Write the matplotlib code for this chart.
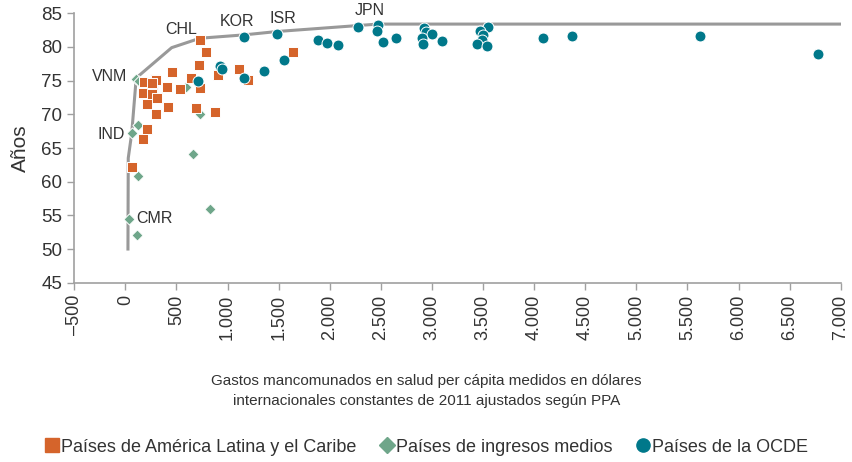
import matplotlib
matplotlib.use("Agg")
import matplotlib.pyplot as plt
from matplotlib.lines import Line2D
from matplotlib.ticker import FuncFormatter, MultipleLocator

plt.rcParams["font.family"] = ["Liberation Sans", "DejaVu Sans"]

# Países de América Latina y el Caribe (gasto, esperanza de vida)
lac_x = [730, 786, 718, 454, 639, 183, 290, 300, 404, 535, 730, 170, 273, 258,
         313, 208, 420, 300, 688, 877, 909, 1111, 1197, 1643, 208, 176, 62, 263]
lac_y = [81.0, 79.2, 77.3, 76.3, 75.4, 74.8, 75.3, 75.1, 74.1, 73.7, 73.9, 73.1,
         73.4, 73.0, 72.4, 71.5, 71.1, 70.0, 70.9, 70.4, 75.8, 76.8, 75.1, 79.2,
         67.8, 66.3, 62.2, 74.6]

# Países de ingresos medios
mid_x = [106, 120, 62, 126, 38, 111, 659, 828, 730, 591, 136]
mid_y = [75.3, 68.4, 67.2, 60.8, 54.5, 52.1, 64.1, 56.0, 70.0, 74.0, 74.9]

# Países de la OCDE
oecd_x = [1164, 1487, 1888, 926, 949, 714, 1164, 1357, 1555, 1970, 2078, 2279,
          2469, 2459, 2524, 2649, 2922, 2939, 2998, 2900, 2910, 3096, 3552,
          3470, 3503, 3487, 3438, 3542, 4090, 4373, 5623, 6782]
oecd_y = [81.5, 81.9, 81.1, 77.2, 76.7, 74.9, 75.4, 76.4, 78.1, 80.6, 80.3, 82.9,
          83.3, 82.4, 80.8, 81.3, 82.8, 82.2, 81.9, 81.3, 80.4, 80.9, 83.0,
          82.3, 81.8, 81.1, 80.5, 80.1, 81.3, 81.6, 81.6, 78.9]

# Frontera de eficiencia
front_x = [25, 28, 62, 106, 453, 730, 1164, 1487, 2469, 7000]
front_y = [50, 63.5, 67.2, 75.4, 79.9, 81.3, 81.8, 82.3, 83.4, 83.4]

# Etiquetas de países (nombre, x, y, desplazamiento en px, alineación)
labels = [
    ("VNM", 106, 75.3, (-9, 2), "right"),
    ("IND", 62, 67.2, (-7, -1), "right"),
    ("CMR", 38, 54.5, (7, 0), "left"),
    ("CHL", 730, 81.0, (-19, 11), "center"),
    ("KOR", 1164, 81.5, (-7, 15), "center"),
    ("ISR", 1487, 81.9, (6, 16), "center"),
    ("JPN", 2469, 83.3, (-8, 14), "center"),
]

orange = "#D5642B"
green = "#6FA68A"
teal = "#00788A"
gray = "#A0A0A0"
txt = "#333333"

fig = plt.figure(figsize=(8.53, 4.62), dpi=100)
ax = fig.add_axes([0.0871, 0.3881, 0.8985, 0.5831])

ax.plot(front_x, front_y, color="#999999", lw=2.2, zorder=1)
ax.scatter(lac_x, lac_y, marker="s", s=55, color=orange, edgecolor="white",
           linewidth=0.7, zorder=3)
ax.scatter(mid_x, mid_y, marker="D", s=32, color=green, edgecolor="white",
           linewidth=0.7, zorder=2)
ax.scatter(oecd_x, oecd_y, marker="o", s=62, color=teal, edgecolor="white",
           linewidth=0.7, zorder=4)

for name, lx, ly, off, ha in labels:
    ax.annotate(name, (lx, ly), xytext=off, textcoords="offset pixels",
                ha=ha, va="center", fontsize=11.5, color=txt)

ax.set_xlim(-500, 7000)
ax.set_ylim(45, 85)
ax.xaxis.set_major_locator(MultipleLocator(500))
ax.yaxis.set_major_locator(MultipleLocator(5))


def fmt_x(v, pos):
    s = f"{abs(int(round(v))):,}".replace(",", ".")
    return ("\u2013" + s) if v < 0 else s


ax.xaxis.set_major_formatter(FuncFormatter(fmt_x))
ax.tick_params(axis="x", labelsize=13, colors=txt, color=gray,
               length=5, width=1, labelrotation=90)
ax.tick_params(axis="y", labelsize=13.5, colors=txt, color=gray,
               length=5, width=1)
for side in ["top", "right"]:
    ax.spines[side].set_visible(False)
for side in ["left", "bottom"]:
    ax.spines[side].set_color(gray)
    ax.spines[side].set_linewidth(1.2)

ax.set_ylabel("Años", fontsize=15, color=txt, labelpad=8)

fig.text(0.5, 0.153, "Gastos mancomunados en salud per cápita medidos en dólares\n"
         "internacionales constantes de 2011 ajustados según PPA",
         ha="center", va="center", fontsize=11, color=txt, linespacing=1.55)

handles = [
    Line2D([], [], ls="none", marker="s", ms=9.5, color=orange,
           label="Países de América Latina y el Caribe"),
    Line2D([], [], ls="none", marker="D", ms=8, color=green,
           label="Países de ingresos medios"),
    Line2D([], [], ls="none", marker="o", ms=9.5, color=teal,
           label="Países de la OCDE"),
]
fig.legend(handles=handles, loc="center", bbox_to_anchor=(0.5, 0.032), ncol=3,
           frameon=False, fontsize=13, handletextpad=0.1, columnspacing=1.3,
           handlelength=0.8, labelcolor=txt)

fig.savefig("out.png", dpi=100)
